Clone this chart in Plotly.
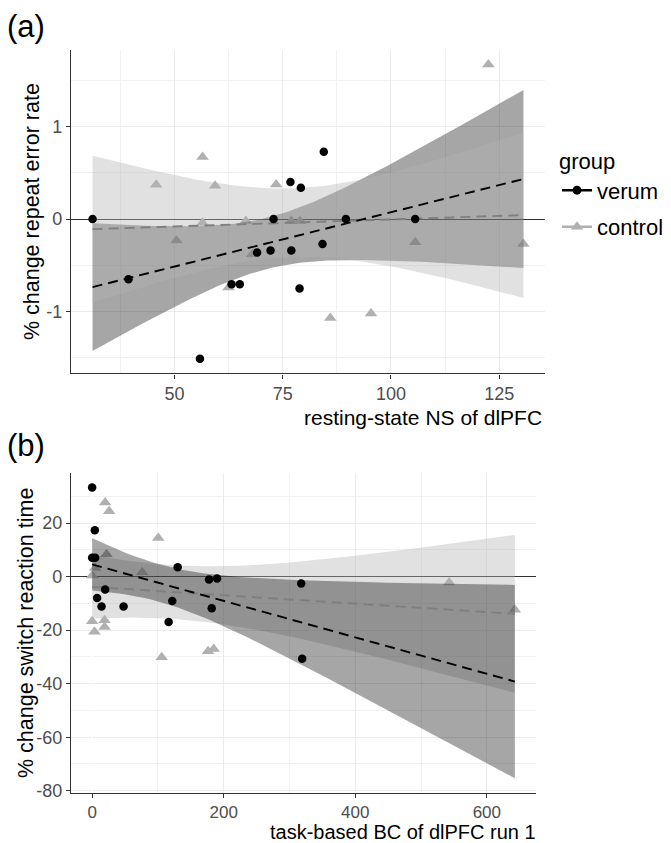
import numpy as np
import plotly.graph_objects as go
from math import lgamma, exp, sqrt, pi

# ---------------- data ----------------
# panel (a): resting-state NS of dlPFC vs % change repeat error rate
a_verum_x = [84.5, 76.8, 79.2, 31.1, 72.9, 89.6, 105.6, 39.4, 55.9, 63.2, 65.1, 69.1, 72.2, 77.0, 78.9, 84.2]
a_verum_y = [0.727, 0.40, 0.34, 0.0, 0.0, 0.0, 0.0, -0.65, -1.51, -0.705, -0.705, -0.36, -0.34, -0.34, -0.75, -0.27]
a_control_x = [56.5, 45.8, 59.4, 73.5, 122.5, 56.5, 66.5, 50.5, 77.0, 79.0, 62.5, 86.0, 95.4, 105.6, 130.6, 68.0]
a_control_y = [0.67, 0.37, 0.36, 0.375, 1.67, -0.04, -0.02, -0.23, -0.02, -0.02, -0.74, -1.07, -1.02, -0.25, -0.27, -0.38]

# panel (b): task-based BC of dlPFC run 1 vs % change switch reaction time
b_verum_x = [0, 4.1, 0, 4.6, 19.8, 7.6, 14.3, 47.8, 130, 121.8, 116.3, 177.7, 189.9, 181.8, 317.8, 319.3]
b_verum_y = [33.3, 17.3, 7.0, 7.0, -4.8, -8.0, -11.2, -11.2, 3.5, -9.1, -17.0, -1.1, -0.7, -11.8, -2.56, -30.7]
b_control_x = [19.8, 25.9, 100.5, 21.9, 76.1, 0, 4.6, 0, 3.6, 18.9, 18.9, 105.7, 176.2, 184.8, 542.7, 642.6]
b_control_y = [27.7, 24.4, 14.4, 8.3, 1.6, 0.4, 3.2, -16.7, -20.6, -16.3, -18.8, -30.1, -27.9, -27.1, -2.2, -12.4]

groups = ["verum", "control"]
a_yticks = [-1, 0, 1]
a_yticklabels = ["-1", "0", "1"]
a_xticks = [50, 75, 100, 125]
b_yticks = [-80, -60, -40, -20, 0, 20]
b_yticklabels = ["-80", "-60", "-40", "-20", "0", "20"]
b_xticks = [0, 200, 400, 600]

a_xtitle = "resting-state NS of dlPFC"
a_ytitle = "% change repeat error rate"
b_xtitle = "task-based BC of dlPFC run 1"
b_ytitle = "% change switch reaction time"

# ---------------- helpers ----------------
def t_quantile(p, df):
    xs = np.linspace(0, 30, 300001)
    c = exp(lgamma((df + 1) / 2) - lgamma(df / 2)) / sqrt(df * pi)
    pdf = c * (1 + xs ** 2 / df) ** (-(df + 1) / 2)
    cdf = 0.5 + np.concatenate([[0], np.cumsum((pdf[1:] + pdf[:-1]) / 2 * np.diff(xs))])
    return float(np.interp(p, cdf, xs))

def lm_band(x, y, xseq):
    x = np.asarray(x, float); y = np.asarray(y, float)
    n = len(x)
    xm = x.mean()
    sxx = ((x - xm) ** 2).sum()
    b = ((x - xm) * (y - y.mean())).sum() / sxx
    a = y.mean() - b * xm
    res = y - (a + b * x)
    s = sqrt((res ** 2).sum() / (n - 2))
    fit = a + b * xseq
    se = s * np.sqrt(1 / n + (xseq - xm) ** 2 / sxx)
    t = t_quantile(0.975, n - 2)
    return fit, fit - t * se, fit + t * se

FONT = "Liberation Sans, Arial, sans-serif"
VERUM_FILL = "rgba(0,0,0,0.35)"
CONTROL_FILL = "rgba(180,180,180,0.40)"
VERUM_COL = "black"
CONTROL_COL = "#b0b0b0"
CONTROL_LINE = "#7f7f7f"

fig = go.Figure()

def add_panel(xv, yv, xc, yc, xax, yax, ribbon_order):
    allx = np.concatenate([xv, xc])
    xseq = np.linspace(allx.min(), allx.max(), 80)
    bands = {"verum": lm_band(xv, yv, xseq), "control": lm_band(xc, yc, xseq)}
    # control points (under the ribbons)
    fig.add_trace(go.Scatter(x=xc, y=yc, mode="markers", xaxis=xax, yaxis=yax,
                             marker=dict(symbol="triangle-up", size=11, color=CONTROL_COL, line=dict(width=0)),
                             showlegend=False, hoverinfo="skip"))
    for g in ribbon_order:
        fit, lo, hi = bands[g]
        fig.add_trace(go.Scatter(x=np.concatenate([xseq, xseq[::-1]]), y=np.concatenate([hi, lo[::-1]]),
                                 fill="toself", mode="lines", line=dict(width=0),
                                 fillcolor=VERUM_FILL if g == "verum" else CONTROL_FILL,
                                 xaxis=xax, yaxis=yax, showlegend=False, hoverinfo="skip"))
    for g in ["control", "verum"]:
        fit, lo, hi = bands[g]
        fig.add_trace(go.Scatter(x=xseq, y=fit, mode="lines", xaxis=xax, yaxis=yax,
                                 line=dict(color=VERUM_COL if g == "verum" else CONTROL_LINE,
                                           width=1.9, dash="10px,6px"),
                                 showlegend=False, hoverinfo="skip"))
    fig.add_trace(go.Scatter(x=xv, y=yv, mode="markers", xaxis=xax, yaxis=yax,
                             marker=dict(symbol="circle", size=8.5, color=VERUM_COL, line=dict(width=0)),
                             showlegend=False, hoverinfo="skip"))
    ally = np.concatenate([yv, yc, bands["verum"][1], bands["verum"][2],
                           bands["control"][1], bands["control"][2]])
    xr = [allx.min() - 0.05 * (allx.max() - allx.min()), allx.max() + 0.05 * (allx.max() - allx.min())]
    yr = [ally.min() - 0.05 * (ally.max() - ally.min()), ally.max() + 0.05 * (ally.max() - ally.min())]
    return xr, yr

xr_a, yr_a = add_panel(np.array(a_verum_x), np.array(a_verum_y), np.array(a_control_x), np.array(a_control_y),
                       "x", "y", ["verum", "control"])
xr_b, yr_b = add_panel(np.array(b_verum_x), np.array(b_verum_y), np.array(b_control_x), np.array(b_control_y),
                       "x2", "y2", ["control", "verum"])

# legend entries
fig.add_trace(go.Scatter(x=[None], y=[None], mode="lines+markers", name=groups[0], legendgroup="v",
                         line=dict(color=VERUM_COL, width=2.5), marker=dict(symbol="circle", size=9, color=VERUM_COL)))
fig.add_trace(go.Scatter(x=[None], y=[None], mode="lines+markers", name=groups[1], legendgroup="c",
                         line=dict(color=CONTROL_COL, width=2.5), marker=dict(symbol="triangle-up", size=11, color=CONTROL_COL)))

W, H = 671, 843
axis_common = dict(showline=True, linecolor="#333333", linewidth=1.4, ticks="outside", ticklen=4,
                   tickcolor="#333333", tickwidth=1.3, showgrid=True, gridcolor="#EBEBEB", gridwidth=1,
                   mirror=False)
tick18 = dict(family=FONT, size=18, color="#4D4D4D")
tick17 = dict(family=FONT, size=17, color="#4D4D4D")

def minor_vals(ticks, step):
    return [t - step / 2 for t in ticks] + [ticks[-1] + step / 2]

fig.update_layout(
    width=W, height=H, margin=dict(l=0, r=0, t=0, b=0),
    paper_bgcolor="white", plot_bgcolor="white",
    font=dict(family=FONT, color="black"),
    xaxis=dict(domain=[63 / W, 537 / W], range=xr_a, anchor="y", tickmode="array", tickvals=a_xticks,
               tickfont=tick18,
               minor=dict(tickvals=minor_vals(a_xticks, 25), showgrid=True, gridcolor="#F1F1F1", gridwidth=0.8, ticks=""),
               **axis_common),
    yaxis=dict(domain=[1 - 369 / H, 1 - 42.3 / H], range=yr_a, anchor="x", tickmode="array",
               tickvals=a_yticks, ticktext=a_yticklabels, tickfont=tick18,
               zeroline=True, zerolinecolor="#333333", zerolinewidth=1.2,
               minor=dict(tickvals=minor_vals(a_yticks, 1), showgrid=True, gridcolor="#F1F1F1", gridwidth=0.8, ticks=""),
               **axis_common),
    xaxis2=dict(domain=[63 / W, 528 / W], range=xr_b, anchor="y2", tickmode="array", tickvals=b_xticks,
                tickfont=tick17,
                minor=dict(tickvals=minor_vals(b_xticks, 200), showgrid=True, gridcolor="#F1F1F1", gridwidth=0.8, ticks=""),
                **axis_common),
    yaxis2=dict(domain=[1 - 792.3 / H, 1 - 469.3 / H], range=yr_b, anchor="x2", tickmode="array",
                tickvals=b_yticks, ticktext=b_yticklabels, tickfont=tick18,
                zeroline=True, zerolinecolor="#333333", zerolinewidth=1.2,
                minor=dict(tickvals=minor_vals(b_yticks, 20), showgrid=True, gridcolor="#F1F1F1", gridwidth=0.8, ticks=""),
                **axis_common),
    legend=dict(x=549 / W, y=1 - 134 / H, xanchor="left", yanchor="top",
                title=dict(text="group", font=dict(family=FONT, size=22, color="black")),
                font=dict(family=FONT, size=22, color="black"), tracegroupgap=5,
                traceorder="grouped", itemwidth=30, bgcolor="rgba(0,0,0,0)"),
)

ann = [
    dict(text="(a)", x=-3 / W, y=1 - 19 / H, xanchor="left", yanchor="middle", font=dict(size=31)),
    dict(text="(b)", x=-3 / W, y=1 - 442 / H, xanchor="left", yanchor="middle", font=dict(size=31)),
    dict(text=a_xtitle, x=536 / W, y=1 - 413 / H, xanchor="right", yanchor="middle", font=dict(size=21)),
    dict(text=b_xtitle, x=529 / W, y=1 - 832 / H, xanchor="right", yanchor="middle", font=dict(size=20), borderpad=0),
    dict(text=a_ytitle, x=24 / W, y=1 - 206 / H, xanchor="center", yanchor="middle", textangle=-90, font=dict(size=21.5)),
    dict(text=b_ytitle, x=18 / W, y=1 - 631 / H, xanchor="center", yanchor="middle", textangle=-90, font=dict(size=21.5)),
]
for a in ann:
    a.update(xref="paper", yref="paper", showarrow=False)
    a["font"].update(family=FONT, color="black")
fig.update_layout(annotations=ann)

fig.write_html("out.html")
